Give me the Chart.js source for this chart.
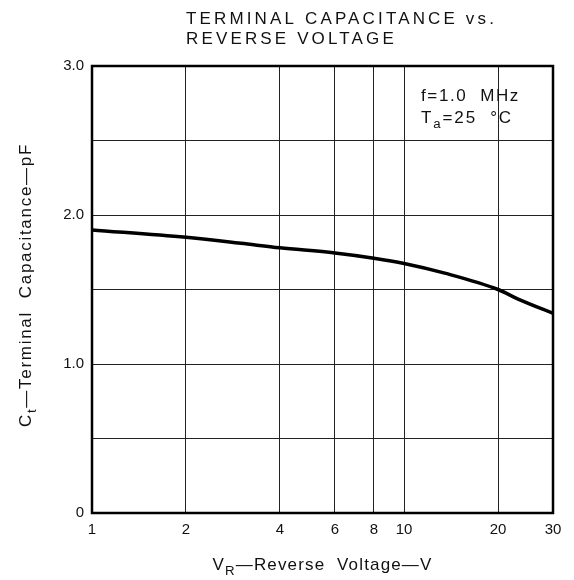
<!DOCTYPE html>
<html><head><meta charset="utf-8">
<script src="https://cdn.jsdelivr.net/npm/chart.js@4"></script>
<style>html,body{margin:0;padding:0;background:#fff}#wrap{position:relative;width:574px;height:580px}</style>
</head><body><div id="wrap"><canvas id="c" width="574" height="580"></canvas></div>
<script>
// ---- data ----
const voltage     = [1,    2,    3,    4,    6,     8,    10,    13.5, 20,   23.5, 30];
const capacitance = [1.90, 1.85, 1.81, 1.78, 1.745, 1.71, 1.675, 1.61, 1.50, 1.43, 1.34];
const xTickValues = [1, 2, 4, 6, 8, 10, 20, 30];
const yTickLabels = {0: '0', 1: '1.0', 2: '2.0', 3: '3.0'};
const titleLines  = ['TERMINAL CAPACITANCE vs.', 'REVERSE VOLTAGE'];
const xTitle = [{t: 'V'}, {t: 'R', sub: true}, {t: '\u2014Reverse  Voltage\u2014V'}];
const yTitle = [{t: 'C'}, {t: 't', sub: true}, {t: '\u2014Terminal  Capacitance\u2014pF'}];
const condLine1 = [{t: 'f=1.0  MHz'}];
const condLine2 = [{t: 'T'}, {t: 'a', sub: true}, {t: '=25  \u00B0C'}];

const FONT = '"Liberation Sans", Arial, sans-serif';

function segWidth(ctx, segs, size, ls) {
  let w = 0;
  for (const s of segs) {
    const fs = s.sub ? size * 0.78 : size;
    ctx.font = fs + 'px ' + FONT;
    ctx.letterSpacing = ls + 'px';
    w += ctx.measureText(s.t).width;
  }
  return w;
}
function drawRich(ctx, segs, x, y, size, opts) {
  opts = opts || {};
  let ls = opts.ls || 0;
  if (opts.fitWidth) {
    const base = segWidth(ctx, segs, size, 0);
    const n = segs.reduce((a, s) => a + s.t.length, 0);
    ls = (opts.fitWidth - base) / n;
  }
  const total = segWidth(ctx, segs, size, ls);
  let cx = x;
  if (opts.align === 'center') cx = x - total / 2;
  ctx.textAlign = 'left';
  ctx.textBaseline = 'alphabetic';
  for (const s of segs) {
    const fs = s.sub ? size * 0.78 : size;
    ctx.font = fs + 'px ' + FONT;
    ctx.letterSpacing = ls + 'px';
    ctx.fillText(s.t, cx, y + (s.sub ? size * 0.32 : 0));
    cx += ctx.measureText(s.t).width;
  }
  ctx.letterSpacing = '0px';
  return ls;
}

const decor = {
  id: 'decor',
  afterDraw(chart) {
    const ctx = chart.ctx, a = chart.chartArea;
    ctx.save();
    // frame
    ctx.strokeStyle = '#000';
    ctx.lineWidth = 2.5;
    ctx.strokeRect(a.left, a.top, a.right - a.left, a.bottom - a.top);
    ctx.fillStyle = '#111';
    // title
    const ls = drawRich(ctx, [{t: titleLines[0]}], 186, 24, 17, {fitWidth: 311});
    drawRich(ctx, [{t: titleLines[1]}], 186, 44, 17, {ls: ls});
    // conditions
    drawRich(ctx, condLine1, 421, 101, 17, {fitWidth: 99});
    drawRich(ctx, condLine2, 421, 123, 17, {fitWidth: 92});
    // x title
    drawRich(ctx, xTitle, (a.left + a.right) / 2, 570, 17, {align: 'center', fitWidth: 220});
    // y title
    ctx.save();
    ctx.translate(31, 285);
    ctx.rotate(-Math.PI / 2);
    drawRich(ctx, yTitle, 0, 0, 17, {align: 'center', fitWidth: 284});
    ctx.restore();
    ctx.restore();
  }
};

new Chart(document.getElementById('c'), {
  type: 'line',
  data: {
    datasets: [{
      data: voltage.map((v, i) => ({x: v, y: capacitance[i]})),
      borderColor: '#000',
      borderWidth: 3.5,
      pointRadius: 0,
      fill: false,
      cubicInterpolationMode: 'monotone'
    }]
  },
  options: {
    responsive: false,
    devicePixelRatio: 1,
    animation: false,
    layout: {padding: {top: 66, right: 21, left: 0, bottom: 0}},
    plugins: {legend: {display: false}, title: {display: false}, tooltip: {enabled: false}},
    scales: {
      x: {
        type: 'logarithmic',
        min: 1, max: 30,
        afterBuildTicks: s => { s.ticks = xTickValues.map(v => ({value: v})); },
        afterFit: s => { s.height = 67; },
        ticks: {
          callback: v => String(v),
          font: {size: 15, family: FONT},
          color: '#111',
          padding: 8,
          maxRotation: 0,
          autoSkip: false
        },
        grid: {color: '#222', lineWidth: 1, drawTicks: false},
        border: {display: false}
      },
      y: {
        min: 0, max: 3,
        afterFit: s => { s.width = 92; },
        ticks: {
          stepSize: 0.5,
          callback: v => (yTickLabels[v] !== undefined ? yTickLabels[v] : ''),
          font: {size: 15, family: FONT},
          color: '#111',
          padding: 8
        },
        grid: {color: '#222', lineWidth: 1, drawTicks: false},
        border: {display: false}
      }
    }
  },
  plugins: [decor]
});
</script></body></html>
